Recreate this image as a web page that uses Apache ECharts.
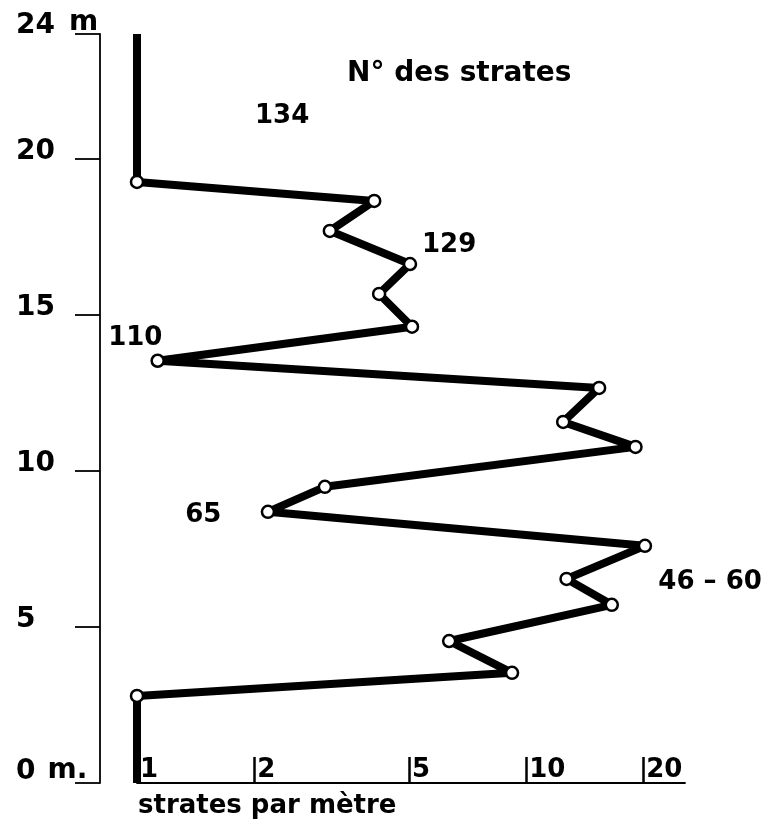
<!DOCTYPE html>
<html>
<head>
<meta charset="utf-8">
<script src="https://cdn.jsdelivr.net/npm/echarts@6/dist/echarts.min.js"></script>
<style>
html,body{margin:0;padding:0;background:#fff;}
#chart{width:768px;height:822px;}
</style>
</head>
<body>
<div id="chart"></div>
<script>
// Depth (m) of each measured point, top to bottom
const depth = [24, 19.26, 18.65, 17.69, 16.63, 15.67, 14.62, 13.53, 12.66, 11.57, 10.77, 9.49, 8.69, 7.6, 6.54, 5.71, 4.55, 3.53, 2.79, 0];
// Strata per metre (log scale)
const strataPerMetre = [1, 1, 4.07, 3.13, 5.03, 4.19, 5.09, 1.13, 15.4, 12.45, 19.1, 3.04, 2.17, 20.2, 12.7, 16.6, 6.34, 9.2, 1, 1];
// Stratum number annotations
const strataLabels = ['134', '129', '110', '65', '46 – 60'];
const strataLabelX = [2.36, 6.34, 0.99, 1.48, 29.7];
const strataLabelY = [21.35, 17.24, 14.26, 8.59, 6.44];
// Axis ticks
const xTicks = [1, 2, 5, 10, 20];
const yTicks = [0, 5, 10, 15, 20, 24];

const FONT = 'DejaVu Sans';

const lineData = depth.map((d, i) => {
  const item = { value: [strataPerMetre[i], d] };
  if (i === 0 || i === depth.length - 1) item.symbol = 'none';
  return item;
});
const annData = strataLabels.map((t, i) => [strataLabelX[i], strataLabelY[i], t]);

const txt = (size, extra) => Object.assign({ fontFamily: FONT, fontSize: size, fontWeight: 'bold', color: '#000' }, extra || {});

const chart = echarts.init(document.getElementById('chart'), null, { renderer: 'canvas' });
chart.setOption({
  backgroundColor: '#fff',
  animation: false,
  title: [
    { text: 'N° des strates', left: 342, top: 55, textStyle: txt(28) },
    { text: 'strates par mètre', left: 133, top: 788, textStyle: txt(26) }
  ],
  grid: { left: 137, right: 83, top: 34, bottom: 39, containLabel: false },
  xAxis: {
    type: 'log', logBase: 10, min: 1, max: 25.6,
    axisLine: { show: true, lineStyle: { color: '#000', width: 1.8 } },
    axisTick: { show: true, inside: true, length: 26, customValues: xTicks,
      lineStyle: { color: '#000', width: 2.5 } },
    minorTick: { show: false },
    splitLine: { show: false },
    axisLabel: Object.assign({
      show: true, inside: true, margin: 0, customValues: xTicks,
      align: 'left', padding: [0, 0, 0, 3],
      formatter: v => String(Math.round(v))
    }, txt(26))
  },
  yAxis: {
    type: 'value', min: 0, max: 24, position: 'left', offset: 37,
    axisLine: { show: true, lineStyle: { color: '#000', width: 1.8 } },
    axisTick: { show: true, inside: false, length: 25, customValues: yTicks,
      lineStyle: { color: '#000', width: 1.8 } },
    splitLine: { show: false },
    axisLabel: Object.assign({
      show: true, customValues: yTicks, align: 'left', margin: 84,
      formatter: v => {
        if (v === 24) return '{t|24}{tm|m}';
        if (v === 0) return '{b|0}{bm|m.}';
        return '{n|' + v + '}';
      },
      rich: {
        n: txt(28, { padding: [0, 0, 14, 0] }),
        t: txt(28, { padding: [0, 0, 16, 0] }),
        tm: txt(28, { padding: [0, 0, 22, 14] }),
        b: txt(28, { padding: [0, 0, 22, 0] }),
        bm: txt(28, { padding: [0, 0, 24, 12] })
      }
    }, txt(28))
  },
  series: [
    {
      type: 'line',
      data: lineData,
      symbol: 'circle', symbolSize: 12, showSymbol: true,
      lineStyle: { color: '#000', width: 8, join: 'round' },
      itemStyle: { color: '#fff', borderColor: '#000', borderWidth: 2.5 },
      z: 3
    },
    {
      type: 'scatter',
      data: annData,
      symbolSize: 0,
      itemStyle: { color: '#000', opacity: 1 },
      clip: false,
      label: Object.assign({
        show: true, position: 'inside', textBorderWidth: 0,
        formatter: p => p.data[2]
      }, txt(26)),
      z: 4
    }
  ]
});
</script>
</body>
</html>
